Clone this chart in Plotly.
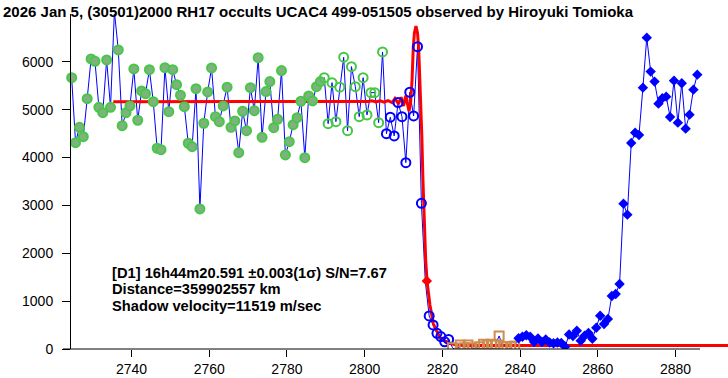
import plotly.graph_objects as go

# ---- light curve data (frame time, intensity) ----
green_fill_x = [2724.6, 2725.6, 2726.6, 2727.6, 2728.6, 2729.6, 2730.6, 2731.6, 2732.6, 2733.6,
                2734.6, 2735.6, 2736.6, 2737.6, 2738.6, 2739.6, 2740.6, 2741.6, 2742.6, 2743.6,
                2744.6, 2745.6, 2746.6, 2747.6, 2748.6, 2749.6, 2750.6, 2751.6, 2752.6, 2753.6,
                2754.6, 2755.6, 2756.6, 2757.6, 2758.6, 2759.6, 2760.6, 2761.6, 2762.6, 2763.6,
                2764.6, 2765.6, 2766.6, 2767.6, 2768.6, 2769.6, 2770.6, 2771.6, 2772.6, 2773.6,
                2774.6, 2775.6, 2776.6, 2777.6, 2778.6, 2779.6, 2780.6, 2781.6, 2782.6, 2783.6,
                2784.6, 2785.6, 2786.6, 2787.6, 2788.6]
green_fill_y = [5670, 4311, 4633, 4437, 5231, 6061, 6013, 5051, 4939, 6040,
                5051, 7050, 6249, 4667, 4939, 5079, 5852, 4780, 5392, 5336,
                5837, 5169, 4195, 4165, 5879, 4960, 5837, 5524, 5302, 5064,
                4299, 4228, 5440, 2926, 4717, 5371, 5873, 4855, 4751, 5079,
                5470, 4633, 4765, 4103, 4968, 4562, 5461, 4980, 6088, 4424,
                5378, 5587, 4625, 4801, 5817, 4055, 4333, 4688, 4834, 5177,
                3998, 5288, 5183, 5482, 5587]

green_open_x = [2789.6, 2790.6, 2791.6, 2792.6, 2793.6, 2794.6, 2795.6, 2796.6,
                2797.6, 2798.6, 2799.6, 2800.6, 2801.6, 2802.6, 2803.6, 2804.6]
green_open_y = [5670, 4709, 5566, 4751, 5470, 6097, 4562, 5900,
                5482, 4855, 5670, 4891, 5357, 5357, 4730, 6207]

blue_open_x = [2805.6, 2806.6, 2807.6, 2808.6, 2809.6, 2810.6, 2811.6, 2812.6, 2813.6,
               2814.6, 2815.6, 2816.6, 2817.6, 2818.6, 2819.6, 2820.6, 2821.6]
blue_open_y = [4500, 4843, 4452, 5150, 4855, 3894, 5365, 4870, 6318,
               3045, 1421, 690, 502, 328, 260, 150, 200]

orange_x = [2822.6, 2823.6, 2824.6, 2825.6, 2826.6, 2827.6, 2828.6, 2829.6, 2830.6,
            2831.6, 2832.6, 2833.6, 2834.6, 2835.6, 2836.6, 2837.6, 2838.6]
orange_y = [27, -35, 84, 27, 84, 27, -6, 48, 98,
            84, 98, 84, 272, 48, 48, 48, 63]

diamond_x = [2839.6, 2840.6, 2841.6, 2842.6, 2843.6, 2844.6, 2845.6, 2846.6, 2847.6, 2848.6,
             2849.6, 2850.6, 2851.6, 2852.6, 2853.6, 2854.6, 2855.6, 2856.6, 2857.6, 2858.6,
             2859.6, 2860.6, 2861.6, 2862.6, 2863.6, 2864.6, 2865.6, 2866.6, 2867.6, 2868.6,
             2869.6, 2870.6, 2871.6, 2872.6, 2873.6, 2874.6, 2875.6, 2876.6, 2877.6, 2878.6,
             2879.6, 2880.6, 2881.6, 2882.6, 2883.6, 2884.6, 2885.6]
diamond_y = [224, 255, 286, 257, 146, 219, 146, 199, 136, 119,
             136, 125, 48, 303, 272, 380, 171, 278, 334, 215,
             445, 696, 523, 627, 1108, 1150, 1359, 3037, 2807, 4305,
             4521, 4473, 5461, 6506, 5796, 5587, 5127, 5240, 5273, 4849,
             5607, 4730, 5553, 4604, 4897, 5419, 5733]

fit_x = [2735.3, 2798.8, 2800.9, 2801.9, 2802.9, 2804.0, 2805.0, 2806.0, 2807.1, 2807.8,
         2808.7, 2809.4, 2810.0, 2810.6, 2811.4, 2811.8, 2812.2, 2812.5, 2812.8, 2813.2,
         2813.6, 2813.9, 2814.3, 2814.7, 2815.0, 2815.3, 2815.7, 2816.1, 2816.8, 2817.7,
         2818.6, 2819.4, 2820.7, 2822.0, 2823.5, 2825.8, 2829.7, 2893.5]
fit_y = [5167, 5167, 5171, 5186, 5161, 5186, 5157, 5192, 5150, 5234,
         5123, 5261, 5077, 5297, 4969, 5119, 5620, 6289, 6603, 6749,
         6603, 6289, 5453, 4471, 3531, 2591, 1860, 1379, 919, 522,
         355, 230, 157, 115, 90, 75, 71, 71]

d1_x = [2816.0]
d1_y = [1420]

title_text = "2026 Jan 5, (30501)2000 RH17 occults UCAC4 499-051505 observed by Hiroyuki Tomioka"
info_lines = ["[D1] 16h44m20.591 ±0.003(1σ) S/N=7.67",
              "Distance=359902557 km",
              "Shadow velocity=11519 m/sec"]

x_ticks = [2740, 2760, 2780, 2800, 2820, 2840, 2860, 2880]
y_ticks = [0, 1000, 2000, 3000, 4000, 5000, 6000]

FONT = "Liberation Sans, Arial, sans-serif"
GREEN = "rgb(70,200,70)"

all_x = green_fill_x + green_open_x + blue_open_x + orange_x + diamond_x
all_y = green_fill_y + green_open_y + blue_open_y + orange_y + diamond_y

fig = go.Figure()
fig.add_trace(go.Scatter(x=all_x, y=all_y, mode="lines",
                         line=dict(color="#0000FF", width=1), hoverinfo="skip"))
fig.add_trace(go.Scatter(x=fit_x, y=fit_y, mode="lines",
                         line=dict(color="#FF0000", width=3)))
fig.add_trace(go.Scatter(x=green_fill_x, y=green_fill_y, mode="markers", cliponaxis=False,
                         marker=dict(symbol="circle", size=9, color="rgb(128,178,128)",
                                     line=dict(color=GREEN, width=2))))
fig.add_trace(go.Scatter(x=green_open_x, y=green_open_y, mode="markers", cliponaxis=False,
                         marker=dict(symbol="circle-open", size=9, color=GREEN,
                                     line=dict(color=GREEN, width=2))))
bx = [v for i, v in enumerate(blue_open_x) if i != 10]
by = [v for i, v in enumerate(blue_open_y) if i != 10]
fig.add_trace(go.Scatter(x=bx, y=by, mode="markers",
                         marker=dict(symbol="circle-open", size=9, color="#0000FF",
                                     line=dict(color="#0000FF", width=2))))
fig.add_trace(go.Scatter(x=orange_x, y=orange_y, mode="markers",
                         marker=dict(symbol="square-open", size=9, color="rgb(205,140,80)",
                                     line=dict(color="rgb(205,140,80)", width=2))))
fig.add_trace(go.Scatter(x=diamond_x, y=diamond_y, mode="markers",
                         marker=dict(symbol="diamond", size=8, color="#0000FF",
                                     line=dict(width=0))))
fig.add_trace(go.Scatter(x=d1_x, y=d1_y, mode="markers",
                         marker=dict(symbol="diamond", size=8, color="#FF0000",
                                     line=dict(width=0))))

ann = []
for i, t in enumerate(info_lines):
    ann.append(dict(x=(110 - 71) / 657, y=(349 - 272.5 - 16.5 * i) / 335, xref="paper", yref="paper",
                    xanchor="left", yanchor="middle", showarrow=False,
                    text="<b>" + t + "</b>", font=dict(family=FONT, size=14.7, color="black")))

fig.update_layout(
    width=728, height=378,
    margin=dict(l=71, r=0, t=14, b=29, pad=0),
    paper_bgcolor="white", plot_bgcolor="white",
    showlegend=False,
    title=dict(text="<b>" + title_text + "</b>", x=3 / 728, xanchor="left",
               y=1 - 12 / 378, yanchor="middle", yref="container",
               font=dict(family=FONT, size=15, color="black")),
    annotations=ann,
    shapes=[dict(type="line", xref="paper", yref="paper",
                 x0=(63 - 71) / 657, x1=(700 - 71) / 657, y0=0, y1=0,
                 line=dict(color="black", width=1))],
    xaxis=dict(range=[2724.43, 2893.5], tickvals=x_ticks, ticks="outside", ticklen=7,
               tickcolor="black", showline=False, showgrid=False, zeroline=False,
               tickfont=dict(family=FONT, size=14, color="black")),
    yaxis=dict(range=[0, 7000], tickvals=y_ticks, ticks="outside", ticklen=8,
               tickcolor="black", showline=True, linecolor="black", linewidth=1,
               showgrid=False, zeroline=False, ticklabelstandoff=6,
               tickfont=dict(family=FONT, size=14, color="black")),
)

fig.write_html("out.html", config={"displayModeBar": False},
               post_script="document.body.style.margin='0';")
